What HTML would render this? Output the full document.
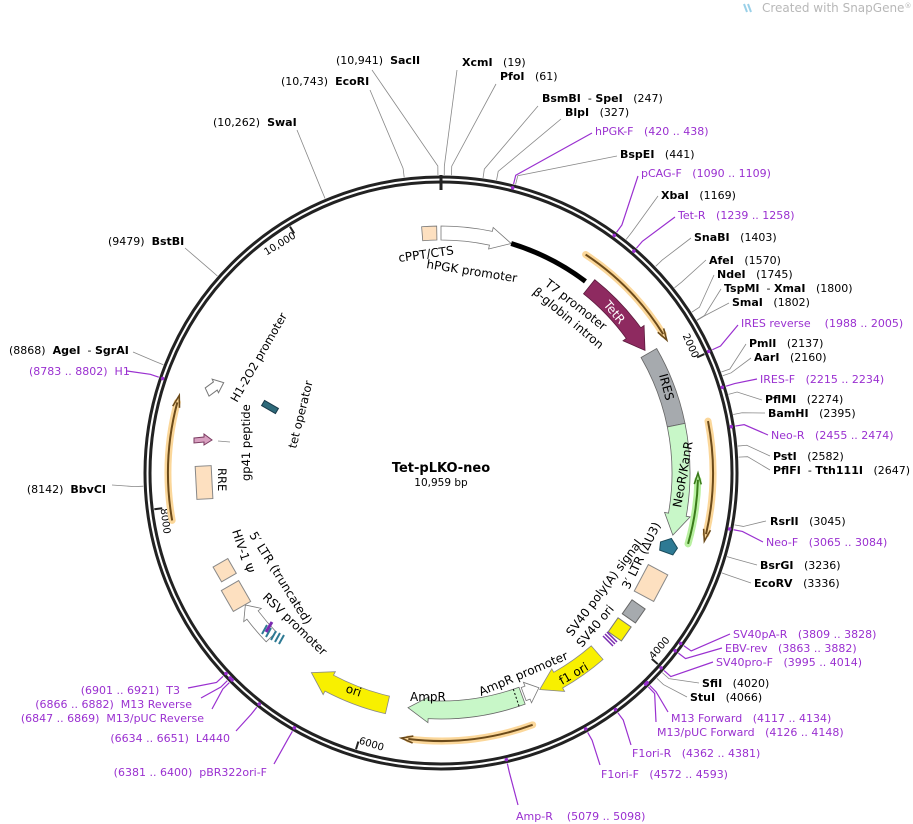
<!DOCTYPE html>
<html><head><meta charset="utf-8"><style>
html,body{margin:0;padding:0;background:#fff;width:913px;height:824px;overflow:hidden}
svg{display:block;font-family:"DejaVu Sans","Liberation Sans",sans-serif}
.b{font-weight:bold;fill:#000}
.n{fill:#000}
.p{fill:#9a30d0}
</style></head><body>
<svg id="s" width="913" height="824" viewBox="0 0 913 824" xmlns="http://www.w3.org/2000/svg" font-size="11">
<text x="762" y="12" font-size="12" fill="#b8b8b8">Created with SnapGene<tspan font-size="7" dy="-4">®</tspan></text>
<path d="M744 4 l3 8 M748 4 l3 8" stroke="#9ad0e8" stroke-width="2"/>
<circle cx="441" cy="473" r="296" fill="none" stroke="#222" stroke-width="3"/>
<circle cx="441" cy="473" r="291" fill="none" stroke="#222" stroke-width="3"/>
<line x1="441" y1="175" x2="441" y2="190" stroke="#222" stroke-width="3"/>
<text x="441" y="472" text-anchor="middle" font-size="13" class="b">Tet-pLKO-neo</text>
<text x="441" y="486" text-anchor="middle" font-size="10.5">10,959 bp</text>
<g id="g"></g>
</svg>
<script>
var N=10959,cx=441,cy=473,g=document.getElementById('g'),h='';
function pt(a,r){var t=a*Math.PI/180;return [cx+r*Math.sin(t),cy-r*Math.cos(t)];}
function ang(bp){return bp/N*360;}
function arc(a1,a2,r){var p=pt(a1,r),q=pt(a2,r);var l=Math.abs(a2-a1)>180?1:0;var sw=a2>a1?1:0;return 'M'+p[0]+' '+p[1]+' A'+r+' '+r+' 0 '+l+' '+sw+' '+q[0]+' '+q[1];}
function feat(a1,a2,r,w,fill,stroke,head){
 var dir=a2>a1?1:-1, hd=head||4; var ab=a2-dir*hd;
 var o1=pt(a1,r+w/2),o2=pt(ab,r+w/2),i1=pt(a1,r-w/2),i2=pt(ab,r-w/2),ho=pt(ab,r+w/2+4),hi=pt(ab,r-w/2-4),tip=pt(a2,r);
 var sw=dir>0?1:0;
 var d='M'+i1+' L'+o1+' A'+(r+w/2)+' '+(r+w/2)+' 0 0 '+sw+' '+o2+' L'+ho+' L'+tip+' L'+hi+' L'+i2+' A'+(r-w/2)+' '+(r-w/2)+' 0 0 '+(1-sw)+' '+i1+' Z';
 h+='<path d="'+d.replace(/,/g,' ')+'" fill="'+fill+'" stroke="'+stroke+'" stroke-width="0.8"/>';
}
function box(a1,a2,r,w,fill,stroke){
 var o1=pt(a1,r+w/2),o2=pt(a2,r+w/2),i1=pt(a1,r-w/2),i2=pt(a2,r-w/2);
 var d='M'+i1+' L'+o1+' A'+(r+w/2)+' '+(r+w/2)+' 0 0 1 '+o2+' L'+i2+' A'+(r-w/2)+' '+(r-w/2)+' 0 0 0 '+i1+' Z';
 h+='<path d="'+d.replace(/,/g,' ')+'" fill="'+fill+'" stroke="'+(stroke||'#777')+'" stroke-width="0.8"/>';
}
function primer(a1,a2,r,col){
 var dir=a2>a1?1:-1;
 h+='<path d="'+arc(a1,a2-dir*1.5,r)+'" fill="none" stroke="'+(col=='g'?'#b8f0a0':'#fbd79a')+'" stroke-width="7" stroke-linecap="round"/>';
 h+='<path d="'+arc(a1,a2-dir*1.5,r)+'" fill="none" stroke="'+(col=='g'?'#3a7a1a':'#6b4a1a')+'" stroke-width="2"/>';
 var b=pt(a2-dir*2.5,r-3.5),c=pt(a2-dir*2.5,r+3.5),t=pt(a2,r);
 h+='<path d="M'+b+' L'+t+' L'+c+'" fill="none" stroke="'+(col=='g'?'#3a7a1a':'#6b4a1a')+'" stroke-width="1.6"/>'.replace(/,/g,' ');
}
[[2000,'2000'],[4000,'4000'],[6000,'6000'],[8000,'8000'],[10000,'10,000']].forEach(function(t){
 var a=ang(t[0]),p=pt(a,289),q=pt(a,281);h+='<line x1="'+p[0]+'" y1="'+p[1]+'" x2="'+q[0]+'" y2="'+q[1]+'" stroke="#222" stroke-width="2"/>';
 var off=t[1].length>4?3.6:2.7;
 var l=pt(a-off,280);var rot=a<90?a:(a<270?a-180:a-360);
 h+='<text x="'+l[0]+'" y="'+l[1]+'" font-size="10" text-anchor="middle" dominant-baseline="middle" transform="rotate('+rot+' '+l[0]+' '+l[1]+')">'+t[1]+'</text>';
});
box(-4.5,-1,240,14,'#fde0c0','#777');
feat(0,17,240,14,'#fff','#777',5);
h+='<path d="'+arc(17,37,240)+'" fill="none" stroke="#000" stroke-width="5"/>';
feat(38.5,59,238,18,'#8e2a60','#5a1a3c',5);
box(60,78.5,240,18,'#a6aaae','#666');
feat(78.5,105,240,18,'#c8f7c8','#666',5);
primer(33.5,59.5,262);primer(79,104.5,272);primer(106,90,257,'g');primer(160,188.5,268);primer(260,286.5,273);
h+='<path d="M660 545 l9 -7 l9 7 l-2 8 l-14 0 z" fill="#2e7a94" stroke="#1a4a5a" transform="rotate(20 669 545)"/>';
h+='<rect x="640" y="568" width="22" height="30" fill="#fde0c0" stroke="#888" transform="rotate(28 651 583)"/>';
h+='<rect x="626" y="603" width="16" height="17" fill="#a6aaae" stroke="#666" transform="rotate(35 634 611)"/>';
h+='<rect x="612" y="621" width="16" height="17" fill="#f8f000" stroke="#777" transform="rotate(35 620 629)"/>';
h+='<path d="M603 636 l10 10 M605 634 l10 10 M607 632 l10 10" stroke="#7a2ab0" stroke-width="1.5"/>';
feat(139,155.5,238,18,'#f8f000','#888',5);
feat(159.5,155.5,236,14,'#fff','#777',3);
feat(160,188,237,18,'#c8f7c8','#666',5);
var d1=pt(161.5,228),d2=pt(161.5,246);h+='<line x1="'+d1[0]+'" y1="'+d1[1]+'" x2="'+d2[0]+'" y2="'+d2[1]+'" stroke="#000" stroke-dasharray="2 2"/>';
feat(193,213,238,18,'#f8f000','#888',5);
feat(226,236,236,14,'#fff','#777',3);
h+='<rect x="216" y="562" width="17" height="17" fill="#fde0c0" stroke="#888" transform="rotate(-30 224 570)"/>';
h+='<rect x="226" y="584" width="20" height="24" fill="#fde0c0" stroke="#888" transform="rotate(-30 236 596)"/>';
h+='<path d="M262 634 l5 -9 M266 637 l5 -9 M271 640 l5 -9 M275 642 l5 -9 M279 644 l5 -9" stroke="#2e7a94" stroke-width="2"/><path d="M266 632 l6 -10" stroke="#7a2ab0" stroke-width="3"/>';
h+='<rect x="196" y="466" width="16" height="33" fill="#fde0c0" stroke="#888" transform="rotate(-3 204 482)"/>';
h+='<path d="M194 438 l10 -1 l0 -3 l8 6 l-8 5 l0 -3 l-10 1z" fill="#d8a0c0" stroke="#7a3a60"/><line x1="218" y1="441" x2="230" y2="442" stroke="#888" stroke-width="0.8"/>';
h+='<path d="M207 384 l10 -2 l0 -3 l9 8 l-9 7 l0 -3 l-10 2z" fill="#fff" stroke="#777" transform="rotate(-25 215 390)"/>';
h+='<rect x="262" y="404" width="16" height="6" fill="#2e6a7a" stroke="#1a3a4a" transform="rotate(30 270 407)"/>';
function L(t,x,y,r,fs,fill){h+='<text x="'+x+'" y="'+y+'" font-size="'+(fs||12)+'" fill="'+(fill||'#000')+'" transform="rotate('+r+' '+x+' '+y+')">'+t+'</text>';}
L('cPPT/CTS',399,262,-8);L('hPGK promoter',426,268,9);L('T7 promoter',544,285,38);L('β-globin intron',532,293,40);
L('TetR',603,305,50,12,'#fff');L('IRES',659,375,75);L('NeoR/KanR',681,508,-80);
L('3′ LTR (ΔU3)',629,590,-64);L('SV40 poly(A) signal',572,637,-53);L('SV40 ori',582,648,-50);L('f1 ori',562,685,-30);
L('AmpR promoter',481,696,-23);L('AmpR',410,701,0);L('ori',345,692,18);
L('5′ LTR (truncated)',249,535,58);L('HIV-1 Ψ',232,531,72);L('RSV promoter',262,598,44);
L('RRE',218,468,90,11.5);L('gp41 peptide',250,481,-90,11.5);L('H1-2O2 promoter',237,403,-60,11.5);L('tet operator',296,449,-76,11.5);
function site(bp,html,x,y,anchor,pur,lx,ly){
 var a=ang(bp),p=pt(a,298),q=pt(a,307);
 h+='<polyline points="'+p+' '+q+' '+lx+','+ly+'" fill="none" stroke="'+(pur?'#9a30d0':'#888')+'" stroke-width="'+(pur?1.2:0.8)+'"/>';
 if(pur){var m=pt(a,294);h+='<circle cx="'+m[0]+'" cy="'+m[1]+'" r="1.8" fill="#9a30d0"/>';}
 h+='<text x="'+x+'" y="'+y+'" text-anchor="'+anchor+'" xml:space="preserve">'+html+'</text>';
}
var B=function(s){return '<tspan class="b">'+s+'</tspan>';},P=function(s){return '<tspan class="p">'+s+'</tspan>';};
site(10941,'(10,941)  '+B('SacII'),336,64,'start',0,372,70);
site(10743,'(10,743)  '+B('EcoRI'),281,85,'start',0,370,90);
site(10262,'(10,262)  '+B('SwaI'),213,126,'start',0,297,130);
site(9479,'(9479)  '+B('BstBI'),108,245,'start',0,185,248);
site(8868,'(8868)  '+B('AgeI')+'  - '+B('SgrAI'),9,354,'start',0,133,352);
site(8790,P('(8783 .. 8802)  H1'),29,375,'start',1,127,371);
site(8142,'(8142)  '+B('BbvCI'),106,493,'end',0,112,485);
site(6910,P('(6901 .. 6921)  T3'),180,694,'end',1,188,688);
site(6874,P('(6866 .. 6882)  M13 Reverse'),192,708,'end',1,201,698);
site(6858,P('(6847 .. 6869)  M13/pUC Reverse'),204,722,'end',1,212,709);
site(6642,P('(6634 .. 6651)  L4440'),230,742,'end',1,236,731);
site(6390,P('(6381 .. 6400)  pBR322ori-F'),267,776,'end',1,274,764);
site(19,B('XcmI')+'   (19)',462,66,'start',0,457,70);
site(61,B('PfoI')+'   (61)',500,80,'start',0,496,84);
site(247,B('BsmBI')+'  - '+B('SpeI')+'   (247)',542,102,'start',0,538,106);
site(327,B('BlpI')+'   (327)',565,116,'start',0,561,119);
site(429,P('hPGK-F   (420 .. 438)'),595,135,'start',1,592,133);
site(441,B('BspEI')+'   (441)',620,158,'start',0,617,156);
site(1099,P('pCAG-F   (1090 .. 1109)'),641,177,'start',1,638,176);
site(1169,B('XbaI')+'   (1169)',661,199,'start',0,658,196);
site(1248,P('Tet-R   (1239 .. 1258)'),678,219,'start',1,675,217);
site(1403,B('SnaBI')+'   (1403)',694,241,'start',0,691,238);
site(1570,B('AfeI')+'   (1570)',709,264,'start',0,706,260);
site(1745,B('NdeI')+'   (1745)',717,278,'start',0,714,275);
site(1800,B('TspMI')+'  - '+B('XmaI')+'   (1800)',724,292,'start',0,721,289);
site(1802,B('SmaI')+'   (1802)',732,306,'start',0,729,303);
site(1996,P('IRES reverse    (1988 .. 2005)'),741,327,'start',1,738,325);
site(2137,B('PmlI')+'   (2137)',749,347,'start',0,746,344);
site(2160,B('AarI')+'   (2160)',754,361,'start',0,751,358);
site(2224,P('IRES-F   (2215 .. 2234)'),760,383,'start',1,757,379);
site(2274,B('PflMI')+'   (2274)',765,403,'start',0,762,400);
site(2395,B('BamHI')+'   (2395)',768,417,'start',0,765,413);
site(2464,P('Neo-R   (2455 .. 2474)'),771,439,'start',1,768,435);
site(2582,B('PstI')+'   (2582)',773,460,'start',0,770,456);
site(2647,B('PflFI')+'  - '+B('Tth111I')+'   (2647)',773,474,'start',0,770,470);
site(3045,B('RsrII')+'   (3045)',770,525,'start',0,766,521);
site(3074,P('Neo-F   (3065 .. 3084)'),766,546,'start',1,763,542);
site(3236,B('BsrGI')+'   (3236)',760,569,'start',0,757,565);
site(3336,B('EcoRV')+'   (3336)',754,587,'start',0,751,583);
site(3818,P('SV40pA-R   (3809 .. 3828)'),733,638,'start',1,730,634);
site(3872,P('EBV-rev   (3863 .. 3882)'),725,652,'start',1,722,648);
site(4004,P('SV40pro-F   (3995 .. 4014)'),716,666,'start',1,713,662);
site(4020,B('SfiI')+'   (4020)',702,687,'start',0,699,683);
site(4066,B('StuI')+'   (4066)',690,701,'start',0,687,697);
site(4125,P('M13 Forward   (4117 .. 4134)'),671,722,'start',1,668,712);
site(4137,P('M13/pUC Forward   (4126 .. 4148)'),657,736,'start',1,656,722);
site(4371,P('F1ori-R   (4362 .. 4381)'),632,757,'start',1,631,745);
site(4582,P('F1ori-F   (4572 .. 4593)'),601,778,'start',1,600,765);
site(5088,P('Amp-R    (5079 .. 5098)'),516,820,'start',1,518,805);
g.innerHTML=h;
</script>
</body></html>
